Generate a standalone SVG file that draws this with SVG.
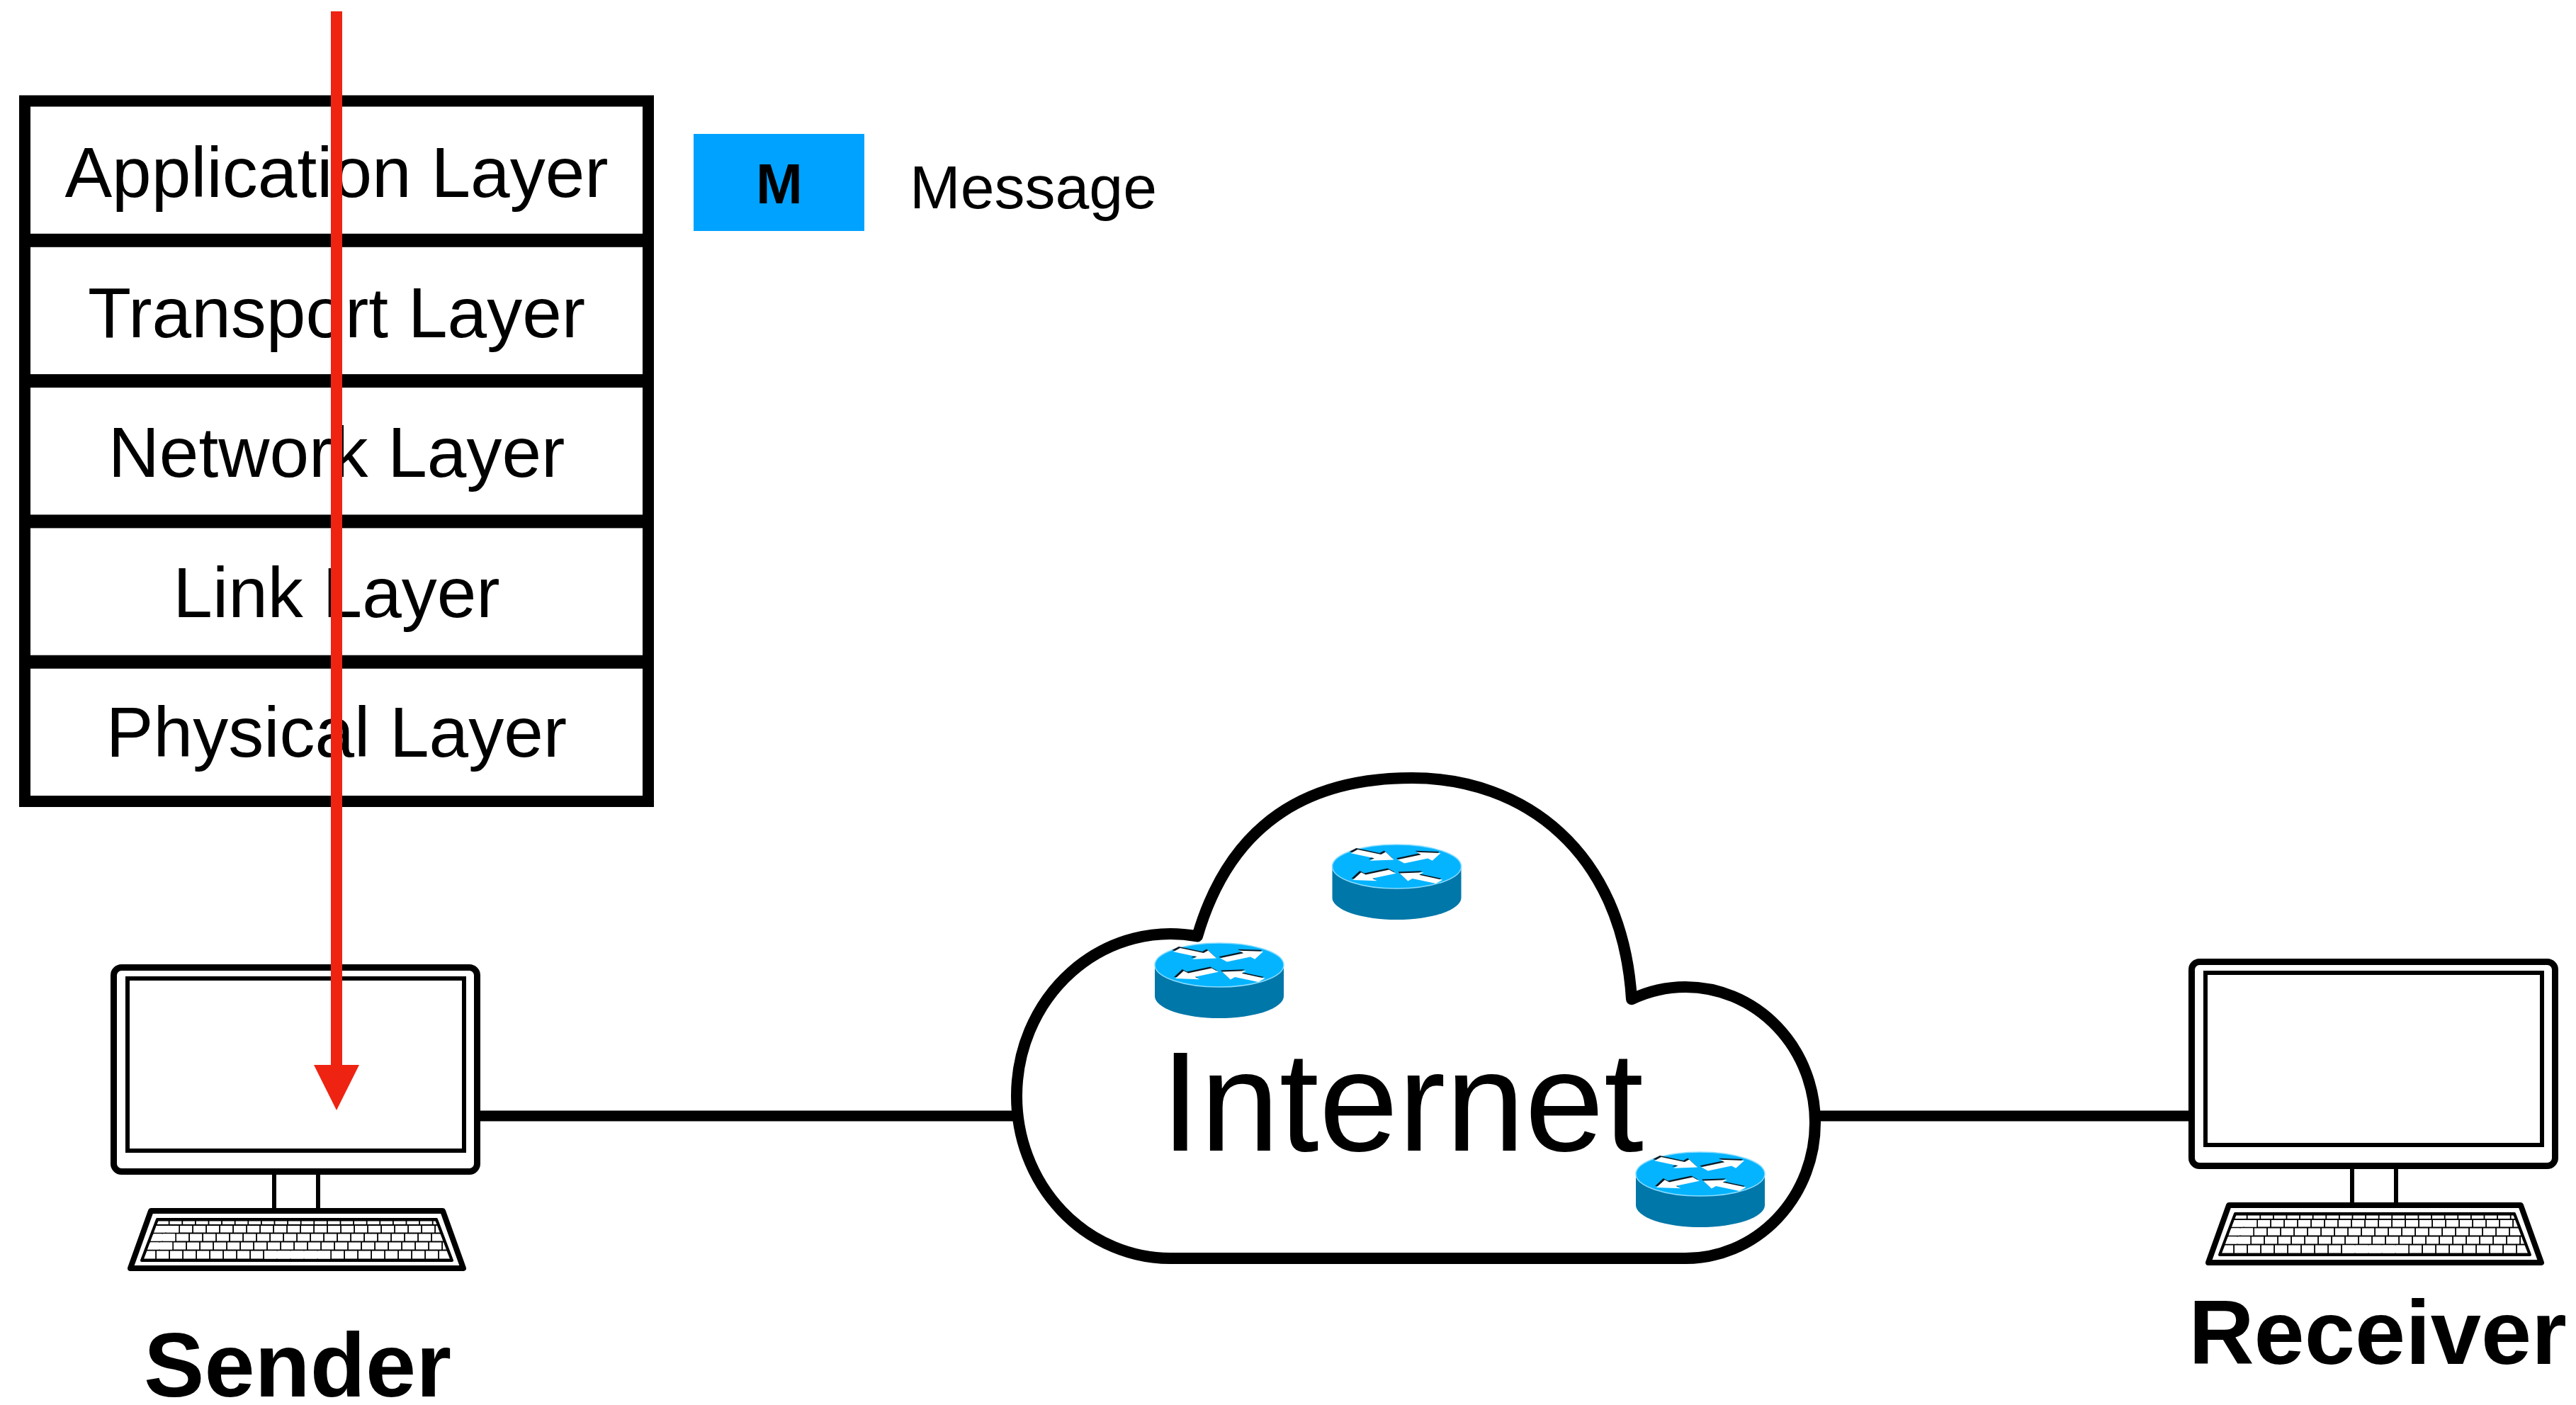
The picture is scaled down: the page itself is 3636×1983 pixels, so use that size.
<svg xmlns="http://www.w3.org/2000/svg" xmlns:xlink="http://www.w3.org/1999/xlink" width="3636" height="1983" viewBox="0 0 3636 1983">
  <style>
    .sans { font-family: "Liberation Sans", Arial, Helvetica, sans-serif; }
    .layer rect { fill: #fff; stroke: #000; stroke-width: 16; }
    .layer text { font-size: 100px; text-anchor: middle; fill: #000; }
    .host-label { font-size: 128px; font-weight: 700; text-anchor: middle; fill: #000; }
    .link { stroke: #000; stroke-width: 15; fill: none; }
    .flow { stroke: #ee2312; stroke-width: 16; fill: none; }
    .keys { fill: none; stroke: #fff; }
  </style>
  <defs>
    <!-- key area of the keyboard (inside the thin inner frame) -->
    <clipPath id="kb-clip" clipPathUnits="userSpaceOnUse">
      <polygon points="223.5,1723 614.5,1723 635,1777 203,1777"/>
    </clipPath>

    <!-- desktop computer: monitor, stand and keyboard -->
    <g id="computer">
      <rect x="160.5" y="1365.5" width="513" height="288" rx="11" fill="#fff" stroke="#000" stroke-width="9"/>
      <rect x="180" y="1381" width="475" height="243" fill="#fff" stroke="#000" stroke-width="6"/>
      <path d="M387 1656 V1706 M449 1656 V1706" stroke="#000" stroke-width="6" fill="none"/>
      <path d="M213 1709 H625 L654 1790 H184 Z" fill="#fff" stroke="#000" stroke-width="8" stroke-linejoin="round"/>
      <path d="M222 1721 H616 L638 1779 H200 Z" fill="#000" stroke="#000" stroke-width="4" stroke-linejoin="round"/>
      <g clip-path="url(#kb-clip)" class="keys">
        <!-- function row -->
        <line x1="221" y1="1725.75" x2="640" y2="1725.75" stroke-width="4.5" stroke-dasharray="16.8 1.8"/>
        <!-- number row -->
        <line x1="216" y1="1734.75" x2="640" y2="1734.75" stroke-width="9.5" stroke-dasharray="17.2 1.8"/>
        <line x1="216" y1="1734.75" x2="252.2" y2="1734.75" stroke-width="9.5"/>
        <!-- upper letter row -->
        <line x1="211" y1="1746.5" x2="640" y2="1746.5" stroke-width="10" stroke-dasharray="17.2 1.8"/>
        <line x1="211" y1="1746.5" x2="247.2" y2="1746.5" stroke-width="10"/>
        <!-- middle letter row -->
        <line x1="207" y1="1758.5" x2="640" y2="1758.5" stroke-width="10" stroke-dasharray="17.2 1.8"/>
        <line x1="207" y1="1758.5" x2="243.2" y2="1758.5" stroke-width="10"/>
        <!-- space bar row -->
        <line x1="202" y1="1771" x2="640" y2="1771" stroke-width="11" stroke-dasharray="17.2 1.8"/>
        <line x1="373" y1="1771" x2="466.2" y2="1771" stroke-width="11"/>
      </g>
    </g>

    <!-- router arrow, tip at origin, pointing along +x -->
    <polygon id="arw" points="0,0 -27,-21 -27,-9 -66,-9 -66,9 -27,9 -27,21"/>

    <!-- router cylinder, origin at the centre of its top face -->
    <g id="router">
      <path d="M-91 0 V44 A91 31 0 0 0 91 44 V0 Z" fill="#0077a9"/>
      <ellipse cx="0" cy="0" rx="91" ry="31" fill="#05b4ff" stroke="#8adcff" stroke-width="1.5"/>
      <g transform="scale(1,0.3407)">
        <g fill="#0a1a24" transform="translate(-2,-6)">
          <use xlink:href="#arw" href="#arw" transform="translate(-4,-28) rotate(32)"/>
          <use xlink:href="#arw" href="#arw" transform="translate(62,-56) rotate(-32)"/>
          <use xlink:href="#arw" href="#arw" transform="translate(-62,56) rotate(148)"/>
          <use xlink:href="#arw" href="#arw" transform="translate(4,28) rotate(212)"/>
        </g>
        <g fill="#fff">
          <use xlink:href="#arw" href="#arw" transform="translate(-4,-28) rotate(32)"/>
          <use xlink:href="#arw" href="#arw" transform="translate(62,-56) rotate(-32)"/>
          <use xlink:href="#arw" href="#arw" transform="translate(-62,56) rotate(148)"/>
          <use xlink:href="#arw" href="#arw" transform="translate(4,28) rotate(212)"/>
        </g>
      </g>
    </g>
  </defs>

  <rect x="0" y="0" width="3636" height="1983" fill="#fff"/>

  <!-- Internet cloud with its routers -->
  <g id="internet">
    <path d="M1652 1776 A217 229 0 0 1 1435 1547 A217 229 0 0 1 1690 1321.5
             C1740 1150 1860 1098 1993 1098 C2150 1098 2290 1200 2303 1410.3
             A183 191.5 0 0 1 2379 1393 A183 191.5 0 0 1 2562 1584.5 A183 191.5 0 0 1 2379 1776 Z"
          fill="#fff" stroke="#000" stroke-width="16" stroke-linejoin="round"/>
    <text class="sans" x="1979" y="1624" font-size="201" text-anchor="middle" fill="#000">Internet</text>
    <g id="router-1" transform="translate(1721,1362)"><use xlink:href="#router" href="#router"/></g>
    <g id="router-2" transform="translate(1971.5,1223)"><use xlink:href="#router" href="#router"/></g>
    <g id="router-3" transform="translate(2400,1657)"><use xlink:href="#router" href="#router"/></g>
  </g>

  <!-- end hosts -->
  <g id="sender">
    <use xlink:href="#computer" href="#computer"/>
    <text class="sans host-label" x="420" y="1971">Sender</text>
  </g>
  <g id="receiver">
    <use xlink:href="#computer" href="#computer" transform="translate(2933,-8)"/>
    <text class="sans host-label" x="3356" y="1925">Receiver</text>
  </g>

  <!-- protocol stack of the sender -->
  <g id="protocol-stack" class="sans">
    <g id="application-layer" class="layer">
      <rect x="35" y="142.5" width="880" height="195.3"/>
      <text x="475" y="278">Application Layer</text>
    </g>
    <g id="transport-layer" class="layer">
      <rect x="35" y="340.8" width="880" height="195.3"/>
      <text x="475" y="476">Transport Layer</text>
    </g>
    <g id="network-layer" class="layer">
      <rect x="35" y="539.1" width="880" height="195.3"/>
      <text x="475" y="673">Network Layer</text>
    </g>
    <g id="link-layer" class="layer">
      <rect x="35" y="737.4" width="880" height="195.3"/>
      <text x="475" y="871">Link Layer</text>
    </g>
    <g id="physical-layer" class="layer">
      <rect x="35" y="935.7" width="880" height="195.3"/>
      <text x="475" y="1068">Physical Layer</text>
    </g>
  </g>

  <!-- legend -->
  <g id="legend" class="sans">
    <rect x="979" y="189" width="241" height="137" fill="#00a2ff"/>
    <text x="1100" y="287" font-size="79" font-weight="700" text-anchor="middle" fill="#000">M</text>
    <text x="1284" y="294" font-size="86" fill="#000">Message</text>
  </g>

  <!-- links and message path -->
  <g id="connectors">
    <line class="link" x1="674" y1="1575" x2="1437" y2="1575"/>
    <line class="link" x1="2561" y1="1575" x2="3093" y2="1575"/>
    <line class="flow" x1="475" y1="16" x2="475" y2="1506"/>
    <polygon points="443,1503 507,1503 475,1567" fill="#ee2312"/>
  </g>
</svg>
